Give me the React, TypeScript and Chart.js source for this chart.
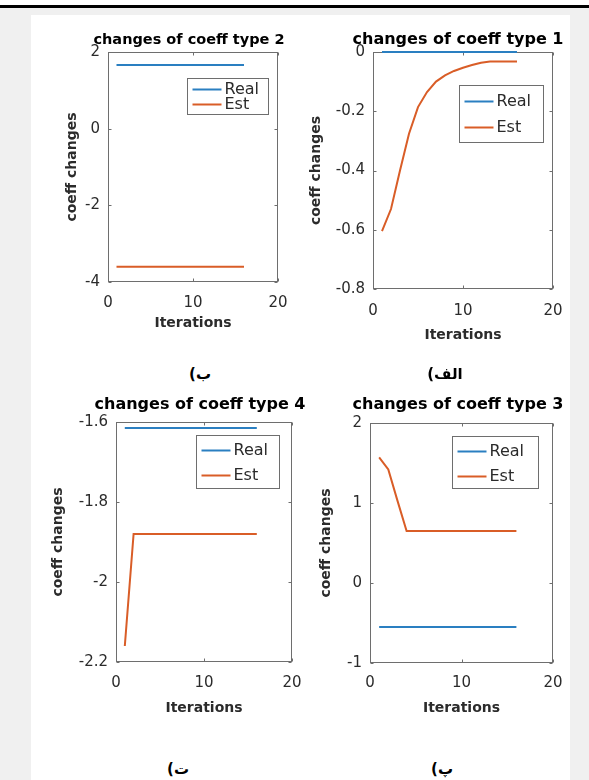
import React, { useEffect, useRef } from "react";
import { Chart, registerables } from "chart.js";

Chart.register(...registerables);

// ---------------- data ----------------
const iterations = [1, 2, 3, 4, 5, 6, 7, 8, 9, 10, 11, 12, 13, 14, 15, 16];
const xTicks = [0, 10, 20];
const seriesNames = ["Real", "Est"];
const xLabel = "Iterations";
const yLabel = "coeff changes";

const type2Real = [1.66, 1.66, 1.66, 1.66, 1.66, 1.66, 1.66, 1.66, 1.66, 1.66, 1.66, 1.66, 1.66, 1.66, 1.66, 1.66];
const type2Est = [-3.6, -3.6, -3.6, -3.6, -3.6, -3.6, -3.6, -3.6, -3.6, -3.6, -3.6, -3.6, -3.6, -3.6, -3.6, -3.6];
const type2Ticks = [-4, -2, 0, 2];

const type1Real = [0, 0, 0, 0, 0, 0, 0, 0, 0, 0, 0, 0, 0, 0, 0, 0];
const type1Est = [-0.605, -0.53, -0.4, -0.276, -0.186, -0.135, -0.1, -0.079, -0.064, -0.053, -0.044, -0.036, -0.032, -0.032, -0.032, -0.032];
const type1Ticks = [-0.8, -0.6, -0.4, -0.2, 0];

const type4Real = [-1.615, -1.615, -1.615, -1.615, -1.615, -1.615, -1.615, -1.615, -1.615, -1.615, -1.615, -1.615, -1.615, -1.615, -1.615, -1.615];
const type4Est = [-2.16, -1.88, -1.88, -1.88, -1.88, -1.88, -1.88, -1.88, -1.88, -1.88, -1.88, -1.88, -1.88, -1.88, -1.88, -1.88];
const type4Ticks = [-2.2, -2, -1.8, -1.6];

const type3Real = [-0.55, -0.55, -0.55, -0.55, -0.55, -0.55, -0.55, -0.55, -0.55, -0.55, -0.55, -0.55, -0.55, -0.55, -0.55, -0.55];
const type3Est = [1.57, 1.42, 1.03, 0.65, 0.65, 0.65, 0.65, 0.65, 0.65, 0.65, 0.65, 0.65, 0.65, 0.65, 0.65, 0.65];
const type3Ticks = [-1, 0, 1, 2];

const titles = [
  "changes of coeff type 2",
  "changes of coeff type 1",
  "changes of coeff type 4",
  "changes of coeff type 3",
];
const captions = ["ب)", "الف)", "ت)", "پ)"];

// ---------------- styles / layout ----------------
const FONT = '"DejaVu Sans", "Liberation Sans", sans-serif';
const BLUE = "#2a7fc1";
const ORANGE = "#d95d27";
const AXIS_COLOR = "#6e6e6e";
const TEXT_COLOR = "#2b2b2b";
const TICK_SIZE = 15;
const AXT_SIZE = 14;
const LEG_SIZE = 16;

Chart.defaults.font.family = FONT;
Chart.defaults.color = TEXT_COLOR;

type Layout = {
  box: [number, number, number, number];
  title: [number, number];
  titleSize: number;
  yTitleX: number;
  xTickY: number;
  xTitleY: number;
  legend: { inset: number; top: number; w: number; h: number; rows: [number, number] };
  caption: [number, number];
};

const layouts: Layout[] = [
  { box: [108, 52, 278, 282], title: [189, 40], titleSize: 14.5, yTitleX: 72, xTickY: 303, xTitleY: 323,
    legend: { inset: 10, top: 26, w: 81, h: 36, rows: [11, 26] }, caption: [200, 374] },
  { box: [373, 52, 553, 289], title: [458, 40], titleSize: 16, yTitleX: 316, xTickY: 311, xTitleY: 335,
    legend: { inset: 10, top: 33, w: 84, h: 57, rows: [16, 42] }, caption: [445, 374] },
  { box: [116, 422, 292, 662], title: [200, 405], titleSize: 16, yTitleX: 58, xTickY: 683, xTitleY: 708,
    legend: { inset: 13, top: 13, w: 83, h: 53, rows: [15, 40] }, caption: [178, 769] },
  { box: [370, 423, 553, 663], title: [458, 405], titleSize: 16, yTitleX: 326, xTickY: 683, xTitleY: 708,
    legend: { inset: 15, top: 13, w: 86, h: 52, rows: [15, 40] }, caption: [442, 769] },
];

const seriesSets = [
  { real: type2Real, est: type2Est, yTicks: type2Ticks },
  { real: type1Real, est: type1Est, yTicks: type1Ticks },
  { real: type4Real, est: type4Est, yTicks: type4Ticks },
  { real: type3Real, est: type3Est, yTicks: type3Ticks },
];

function geometry(l: Layout) {
  const [L, T, R, B] = l.box;
  const [TX, TY] = l.title;
  const ts = l.titleSize;
  const Wy = 100;
  const cx = L - Wy;
  const Wr = Math.max(1, 2 * TX - R - cx);
  const cw = R + Wr - cx;
  const cy = Math.floor(TY - ts / 2 - 8);
  const tpt = TY - ts / 2 - cy;
  const tpb = T - TY - ts / 2;
  const Hx = l.xTitleY - B + AXT_SIZE / 2;
  const chRaw = B + Hx - cy;
  const ch = Math.ceil(chRaw) + 4;
  const padB = ch - chRaw;
  const xPad = l.xTickY - B - TICK_SIZE / 2;
  const yTitlePad = l.yTitleX - cx - AXT_SIZE / 2;
  return { Wy, Wr, cx, cw, cy, ch, tpt, tpb, Hx, padB, xPad, yTitlePad };
}

const boxPlugin = {
  id: "mbox",
  beforeDatasetsDraw(chart: any) {
    const { ctx, chartArea: a, scales } = chart;
    const l = Math.round(a.left) + 0.5;
    const t = Math.round(a.top) + 0.5;
    const r = Math.round(a.right) - 0.5;
    const b = Math.round(a.bottom) - 0.5;
    ctx.save();
    ctx.strokeStyle = AXIS_COLOR;
    ctx.lineWidth = 1;
    ctx.strokeRect(l, t, r - l, b - t);
    ctx.beginPath();
    for (const tk of scales.x.ticks) {
      const px = Math.round(scales.x.getPixelForValue(tk.value)) + 0.5;
      ctx.moveTo(px, b);
      ctx.lineTo(px, b - 3);
      ctx.moveTo(px, t);
      ctx.lineTo(px, t + 3);
    }
    for (const tk of scales.y.ticks) {
      const py = Math.round(scales.y.getPixelForValue(tk.value)) + 0.5;
      ctx.moveTo(l, py);
      ctx.lineTo(l + 3, py);
      ctx.moveTo(r, py);
      ctx.lineTo(r - 3, py);
    }
    ctx.stroke();
    ctx.restore();
  },
};

const legendPlugin = {
  id: "mlegend",
  afterDatasetsDraw(chart: any, _args: any, opts: any) {
    const { ctx, chartArea: a } = chart;
    const x0 = Math.round(a.right - opts.inset - opts.w) + 0.5;
    const y0 = Math.round(a.top + opts.top) + 0.5;
    ctx.save();
    ctx.fillStyle = "#ffffff";
    ctx.fillRect(x0, y0, opts.w, opts.h);
    ctx.strokeStyle = AXIS_COLOR;
    ctx.lineWidth = 1;
    ctx.strokeRect(x0, y0, opts.w, opts.h);
    chart.data.datasets.forEach((ds: any, i: number) => {
      const y = y0 + opts.rows[i];
      ctx.strokeStyle = ds.borderColor;
      ctx.lineWidth = 2;
      ctx.beginPath();
      ctx.moveTo(x0 + 5, y);
      ctx.lineTo(x0 + 34, y);
      ctx.stroke();
      ctx.fillStyle = TEXT_COLOR;
      ctx.font = `${LEG_SIZE}px ${FONT}`;
      ctx.textBaseline = "middle";
      ctx.textAlign = "left";
      ctx.fillText(ds.label, x0 + 37, y);
    });
    ctx.restore();
  },
};

function Subplot({ index }: { index: number }) {
  const ref = useRef<HTMLCanvasElement>(null);
  const l = layouts[index];
  const g = geometry(l);
  useEffect(() => {
    const s = seriesSets[index];
    const yTicks = s.yTicks;
    const chart = new Chart(ref.current as HTMLCanvasElement, {
      type: "line",
      data: {
        datasets: [
          {
            label: seriesNames[0],
            data: iterations.map((x, i) => ({ x, y: s.real[i] })),
            borderColor: BLUE,
            borderWidth: 2,
            pointRadius: 0,
            tension: 0,
            clip: false,
          },
          {
            label: seriesNames[1],
            data: iterations.map((x, i) => ({ x, y: s.est[i] })),
            borderColor: ORANGE,
            borderWidth: 2,
            pointRadius: 0,
            tension: 0,
            clip: false,
          },
        ],
      },
      options: {
        animation: false,
        responsive: false,
        devicePixelRatio: 1,
        events: [],
        layout: { padding: { left: 0, right: 0, top: 0, bottom: g.padB } },
        plugins: {
          legend: { display: false },
          tooltip: { enabled: false },
          title: {
            display: true,
            text: titles[index],
            color: "#000000",
            fullSize: true,
            font: { family: FONT, size: l.titleSize, weight: "bold", lineHeight: 1 },
            padding: { top: g.tpt, bottom: g.tpb },
          },
          mlegend: l.legend,
        } as any,
        scales: {
          x: {
            type: "linear",
            min: xTicks[0],
            max: xTicks[xTicks.length - 1],
            afterBuildTicks: (sc: any) => {
              sc.ticks = xTicks.map((v) => ({ value: v }));
            },
            afterFit: (sc: any) => {
              sc.height = g.Hx;
            },
            grid: { display: false, drawTicks: false },
            border: { display: false },
            ticks: {
              padding: g.xPad,
              maxRotation: 0,
              autoSkip: false,
              color: TEXT_COLOR,
              font: { family: FONT, size: TICK_SIZE, lineHeight: 1 },
              callback: (v: any) => String(v),
            },
            title: {
              display: true,
              text: xLabel,
              color: TEXT_COLOR,
              font: { family: FONT, size: AXT_SIZE, weight: "bold", lineHeight: 1 },
              padding: { top: 0, bottom: 0 },
            },
          },
          y: {
            type: "linear",
            position: "left",
            min: yTicks[0],
            max: yTicks[yTicks.length - 1],
            afterBuildTicks: (sc: any) => {
              sc.ticks = yTicks.map((v) => ({ value: v }));
            },
            afterFit: (sc: any) => {
              sc.width = g.Wy;
            },
            grid: { display: false, drawTicks: false },
            border: { display: false },
            ticks: {
              padding: 8,
              autoSkip: false,
              color: TEXT_COLOR,
              font: { family: FONT, size: TICK_SIZE, lineHeight: 1 },
              callback: (v: any) => String(v),
            },
            title: {
              display: true,
              text: yLabel,
              color: TEXT_COLOR,
              font: { family: FONT, size: AXT_SIZE, weight: "bold", lineHeight: 1 },
              padding: { top: g.yTitlePad, bottom: 0 },
            },
          },
          yRight: {
            type: "linear",
            position: "right",
            display: true,
            min: 0,
            max: 1,
            afterFit: (sc: any) => {
              sc.width = g.Wr;
            },
            grid: { display: false, drawTicks: false },
            border: { display: false },
            ticks: { display: false },
            title: { display: false },
          },
        },
      } as any,
      plugins: [boxPlugin, legendPlugin],
    });
    return () => chart.destroy();
  }, [index]);
  return (
    <canvas
      ref={ref}
      width={g.cw}
      height={g.ch}
      style={{ position: "absolute", left: g.cx, top: g.cy, width: g.cw, height: g.ch }}
    />
  );
}

export default function App() {
  return (
    <div
      style={{
        position: "absolute",
        left: 0,
        top: 0,
        width: 589,
        height: 780,
        background: "#f0f0f0",
        overflow: "hidden",
      }}
    >
      <div style={{ position: "absolute", left: 0, top: 0, width: 589, height: 5, background: "#ffffff" }} />
      <div style={{ position: "absolute", left: 0, top: 5, width: 589, height: 3, background: "#000000" }} />
      <div style={{ position: "absolute", left: 31, top: 15, width: 539, height: 765, background: "#ffffff" }} />
      {layouts.map((_, i) => (
        <Subplot key={i} index={i} />
      ))}
      {layouts.map((l, i) => (
        <div
          key={"c" + i}
          dir="rtl"
          style={{
            position: "absolute",
            left: l.caption[0] - 40,
            top: l.caption[1] - 12,
            width: 80,
            height: 24,
            lineHeight: "24px",
            textAlign: "center",
            fontFamily: FONT,
            fontWeight: "bold",
            fontSize: 15,
            color: "#000",
          }}
        >
          {captions[i]}
        </div>
      ))}
    </div>
  );
}
